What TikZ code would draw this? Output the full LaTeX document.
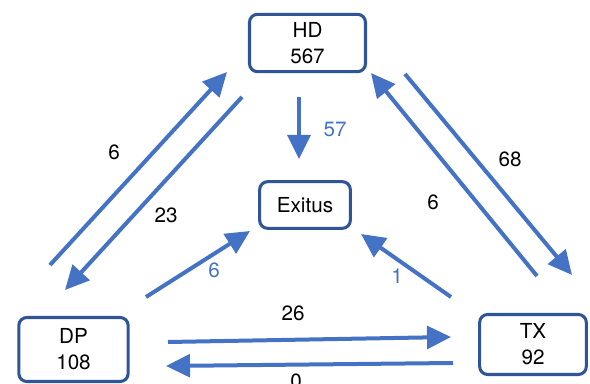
\documentclass[tikz,border=0pt]{standalone}
\usepackage{fontspec}
\setmainfont{TeX Gyre Heros}
\usetikzlibrary{arrows.meta}
\definecolor{flowblue}{RGB}{68,114,196}
\definecolor{boxblue}{RGB}{47,85,151}
\begin{document}
\begin{tikzpicture}[x=0.75pt, y=-0.75pt, font=\fontsize{15.5}{19.5}\selectfont, line join=round,
 >={Triangle[length=18pt,width=17pt]},
 state/.style={draw=boxblue, line width=2.3pt, rounded corners=6pt, align=center, inner sep=0pt},
 flow/.style={->, draw=flowblue, fill=flowblue, line width=3pt},
 count/.style={text=flowblue}]
 \useasboundingbox (0,0) rectangle (590,384);
 \node[state, minimum width=87pt, minimum height=43pt] (hd) at (307.5,43) {HD\\567};
 \node[state, minimum width=68pt, minimum height=35pt] (exitus) at (305,205) {Exitus};
 \node[state, minimum width=82pt, minimum height=48pt] (dp) at (73.5,349.5) {DP\\108};
 \node[state, minimum width=80pt, minimum height=45pt] (tx) at (533,344.5) {TX\\92};
 \path
 (50,265) coordinate (dp-hd-a) (227,72) coordinate (dp-hd-b)
 (242,97) coordinate (hd-dp-a) (65,290) coordinate (hd-dp-b)
 (537,276) coordinate (tx-hd-a) (371,73) coordinate (tx-hd-b)
 (405,74) coordinate (hd-tx-a) (572,275) coordinate (hd-tx-b)
 (299,97) coordinate (hd-ex-a) (299,159) coordinate (hd-ex-b)
 (146,297) coordinate (dp-ex-a) (250,231) coordinate (dp-ex-b)
 (451,297) coordinate (tx-ex-a) (361,234) coordinate (tx-ex-b)
 (168,342) coordinate (dp-tx-a) (451,337) coordinate (dp-tx-b)
 (453,363) coordinate (tx-dp-a) (166,366) coordinate (tx-dp-b);
 \draw[flow] (dp-hd-a)--(dp-hd-b);
 \draw[flow] (hd-dp-a)--(hd-dp-b);
 \draw[flow] (tx-hd-a)--(tx-hd-b);
 \draw[flow] (hd-tx-a)--(hd-tx-b);
 \draw[flow] (hd-ex-a)--(hd-ex-b);
 \draw[flow] (dp-ex-a)--(dp-ex-b);
 \draw[flow] (tx-ex-a)--(tx-ex-b);
 \draw[flow] (dp-tx-a)--(dp-tx-b);
 \draw[flow] (tx-dp-a)--(tx-dp-b);
 \path
 (114,152) node (n-dphd) {6}
 (166,215) node (n-hddp) {23}
 (510,159) node (n-hdtx) {68}
 (433,202) node (n-txhd) {6}
 (293,313) node (n-dptx) {26}
 (296,381) node (n-txdp) {0}
 (335,129) node[count] (n-hdex) {57}
 (214,270) node[count] (n-dpex) {6}
 (397,276) node[count] (n-txex) {1};
\end{tikzpicture}
\end{document}
